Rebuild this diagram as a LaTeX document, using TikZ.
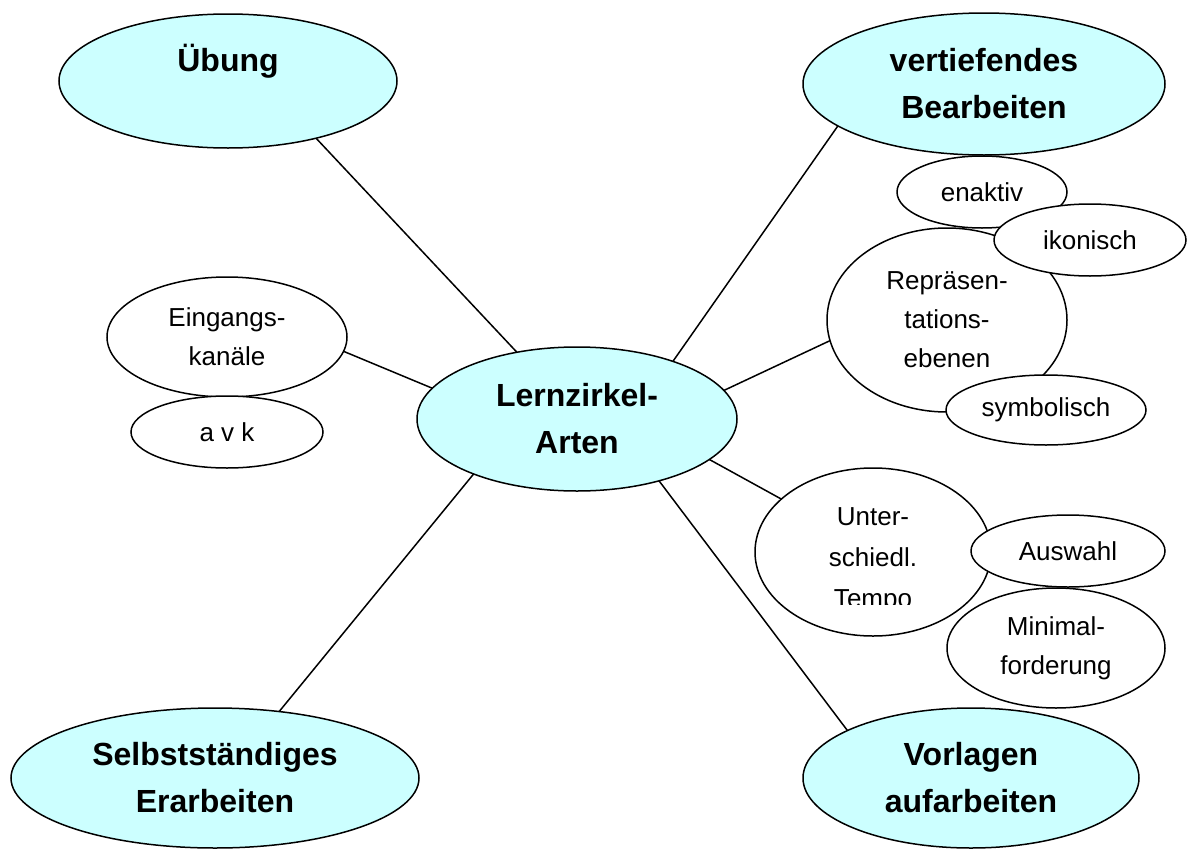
\documentclass[tikz,border=0pt]{standalone}
\usepackage{fontspec}
\setmainfont{Liberation Sans}
\usetikzlibrary{shapes.geometric,backgrounds}
\definecolor{bubblecyan}{HTML}{CCFFFF}

\begin{document}
\begin{tikzpicture}[%
    x=1pt, y=-1pt,%
    show background rectangle,%
    tight background,%
    background rectangle/.style={fill=white}%
  ]
  \tikzset{%
    bubble/.style={ellipse, draw=black, line width=1.5pt, inner sep=0pt,%
      outer sep=0pt, align=center},%
    major/.style={bubble, fill=bubblecyan,%
      font=\fontsize{32}{47}\selectfont\bfseries},%
    minor/.style={bubble, fill=white, font=\fontsize{26}{39}\selectfont},%
    radii/.style 2 args={minimum width=2*#1, minimum height=2*#2},%
    link/.style={line width=1.5pt}%
  }%
  \useasboundingbox (0,0) rectangle (1187,849);%

  %
  % Hauptthemen
  %
  \node[major, radii={160}{72}] (lern) at (577,419) {Lernzirkel-\\Arten};%
  \node[major, radii={169}{67}] (ubung) at (228,81) {Übung\\~};%
  \node[major, radii={181}{71}] (vertief) at (984,84) {vertiefendes\\Bearbeiten};%
  \node[major, radii={204}{70}] (selbst) at (215,778) {Selbstständiges\\Erarbeiten};%
  \node[major, radii={168}{70}] (vorlagen) at (971,778) {Vorlagen\\aufarbeiten};%

  %
  % Unterpunkte
  %
  % Eingangskanaele
  \node[minor, radii={120}{60}] (eingang) at (227,337) {Eingangs-\\kanäle};%
  \node[minor, radii={96}{36}] (avk) at (227,432) {a v k};%

  % Repraesentationsebenen
  \node[minor, radii={85}{36}] (enaktiv) at (982,192) {enaktiv};%
  \node[minor, radii={120}{92}] (repraes) at (947,320) {Repräsen-\\tations-\\ebenen};%
  \node[minor, radii={96}{36}] (ikonisch) at (1090,240) {ikonisch};%
  \node[minor, radii={100}{35}] (symbol) at (1046,410) {symbolisch};%

  % Tempo
  \node[minor, radii={118}{84}] (tempo) at (873,552) {};%
  \begin{scope}
    \clip (755,460) rectangle (992,604);%
    \node[minor, draw=none, fill=none, font=\fontsize{26}{41}\selectfont]%
      (tempo text) at (873,560) {Unter-\\schiedl.\\Tempo};%
  \end{scope}
  \node[minor, radii={97}{36}] (auswahl) at (1068,551) {Auswahl};%
  \node[minor, radii={109}{60}] (minimal) at (1056,648) {Minimal-\\forderung};%

  %
  % Verbindungen
  %
  \foreach \from/\to in {ubung.-33/lern.132, vertief.-164/lern.31,%
      eingang.-7/lern.168, repraes.190/lern.11, tempo.150/lern.-17,%
      vorlagen.159/lern.-37, selbst.46/lern.208} {%
      \draw[link] (\from) -- (\to);%
    }%
\end{tikzpicture}
\end{document}
